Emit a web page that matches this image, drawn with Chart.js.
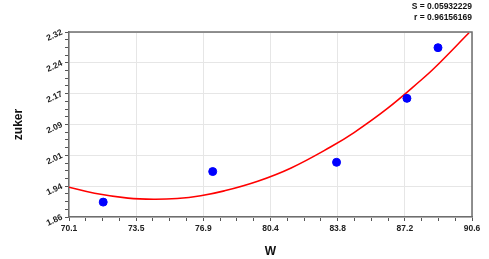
<!DOCTYPE html>
<html>
<head>
<meta charset="utf-8">
<script src="https://cdn.jsdelivr.net/npm/chart.js@4/dist/chart.umd.min.js"></script>
<style>
  html, body { margin: 0; padding: 0; background: #fff; }
  #wrap { width: 489px; height: 259px; }
</style>
</head>
<body>
<div id="wrap"><canvas id="chart" width="489" height="259"></canvas></div>
<script>
// 측정값 (W, zuker)
const wValues = [71.84, 77.41, 83.71, 87.29, 88.87];
const zukerValues = [1.897, 1.973, 1.996, 2.155, 2.281];

// 그림에서 읽은 회귀 곡선
const fitW = [70.1, 71.4, 73.1, 74.4, 75.6, 76.8, 78.0, 79.7, 81.4, 83.4, 84.6, 86.3, 88.0, 88.7, 90.45];
const fitZuker = [1.934, 1.919, 1.907, 1.904, 1.906, 1.913, 1.925, 1.949, 1.982, 2.034, 2.070, 2.130, 2.200, 2.231, 2.318];

// 축 눈금 라벨
const xTickLabels = ['70.1', '73.5', '76.9', '80.4', '83.8', '87.2', '90.6'];
const yTickLabels = ['1.86', '1.94', '2.01', '2.09', '2.17', '2.24', '2.32'];

const statLines = ['S = 0.05932229', 'r = 0.96156169'];

const xMin = 70.1, xMax = 90.6;
const yMin = 1.86, yMax = 2.32;
const minorPerMajor = 4;

function makeTicks(min, max, majors) {
  const n = (majors - 1) * minorPerMajor;
  const out = [];
  for (let i = 0; i <= n; i++) out.push({ value: min + (max - min) * i / n });
  return out;
}

const pointData = wValues.map((w, i) => ({ x: w, y: zukerValues[i] }));
const fitData = fitW.map((w, i) => ({ x: w, y: fitZuker[i] }));

const tickFont = { family: 'Liberation Sans', size: 8.5, weight: 'bold' };

// 위/오른쪽 테두리, 오른쪽 위 통계값
const framePlugin = {
  id: 'frame',
  afterDatasetsDraw(chart) {
    const { ctx, chartArea: a } = chart;
    ctx.save();
    ctx.strokeStyle = '#6e6e6e';
    ctx.lineWidth = 1.5;
    ctx.beginPath();
    ctx.moveTo(a.left, a.top);
    ctx.lineTo(a.right, a.top);
    ctx.lineTo(a.right, a.bottom);
    ctx.stroke();
    ctx.restore();
  },
  afterDraw(chart) {
    const { ctx, chartArea: a } = chart;
    ctx.save();
    ctx.fillStyle = '#111';
    ctx.font = 'bold 8.5px "Liberation Sans"';
    ctx.textAlign = 'right';
    ctx.textBaseline = 'alphabetic';
    statLines.forEach((t, i) => ctx.fillText(t, a.right, 8.5 + i * 11));
    ctx.restore();
  }
};

const chart = new Chart(document.getElementById('chart').getContext('2d'), {
  type: 'scatter',
  data: {
    datasets: [{
      data: pointData,
      backgroundColor: '#0000ff',
      borderColor: '#0000ff',
      pointRadius: 4,
      pointHoverRadius: 4,
      order: 1
    }, {
      type: 'line',
      data: fitData,
      borderColor: '#ff0000',
      borderWidth: 1.6,
      pointRadius: 0,
      tension: 0.4,
      fill: false,
      order: 2
    }]
  },
  options: {
    responsive: false,
    animation: false,
    devicePixelRatio: 1,
    layout: { padding: { left: 0, top: 32, right: 17, bottom: 0 } },
    plugins: { legend: { display: false }, tooltip: { enabled: false } },
    scales: {
      x: {
        type: 'linear',
        min: xMin,
        max: xMax,
        afterBuildTicks: s => { s.ticks = makeTicks(xMin, xMax, xTickLabels.length); },
        afterFit: s => { s.height = 42; },
        ticks: {
          autoSkip: false,
          maxRotation: 0,
          padding: 3,
          color: '#222',
          font: tickFont,
          callback: (v, i) => i % minorPerMajor === 0 ? xTickLabels[i / minorPerMajor] : ''
        },
        grid: {
          color: c => c.index % minorPerMajor === 0 ? '#e6e6e6' : 'rgba(0,0,0,0)',
          tickColor: '#555',
          tickLength: 4,
          drawOnChartArea: true
        },
        border: { color: '#6e6e6e', width: 1.5 },
        title: {
          display: true,
          text: 'W',
          color: '#111',
          font: { family: 'Liberation Sans', size: 12, weight: 'bold' },
          padding: { top: 0, bottom: 0 }
        }
      },
      y: {
        type: 'linear',
        min: yMin,
        max: yMax,
        afterBuildTicks: s => { s.ticks = makeTicks(yMin, yMax, yTickLabels.length); },
        afterFit: s => { s.width = 69; },
        ticks: {
          autoSkip: false,
          minRotation: 25,
          maxRotation: 25,
          padding: 3,
          color: '#222',
          font: tickFont,
          callback: (v, i) => i % minorPerMajor === 0 ? yTickLabels[i / minorPerMajor] : ''
        },
        grid: {
          color: c => c.index % minorPerMajor === 0 ? '#e6e6e6' : 'rgba(0,0,0,0)',
          tickColor: '#555',
          tickLength: 4
        },
        border: { color: '#6e6e6e', width: 1.5 },
        title: {
          display: true,
          text: 'zuker',
          color: '#111',
          font: { family: 'Liberation Sans', size: 12, weight: 'bold' },
          padding: { top: 11, bottom: 0 }
        }
      }
    }
  },
  plugins: [framePlugin]
});
</script>
</body>
</html>
